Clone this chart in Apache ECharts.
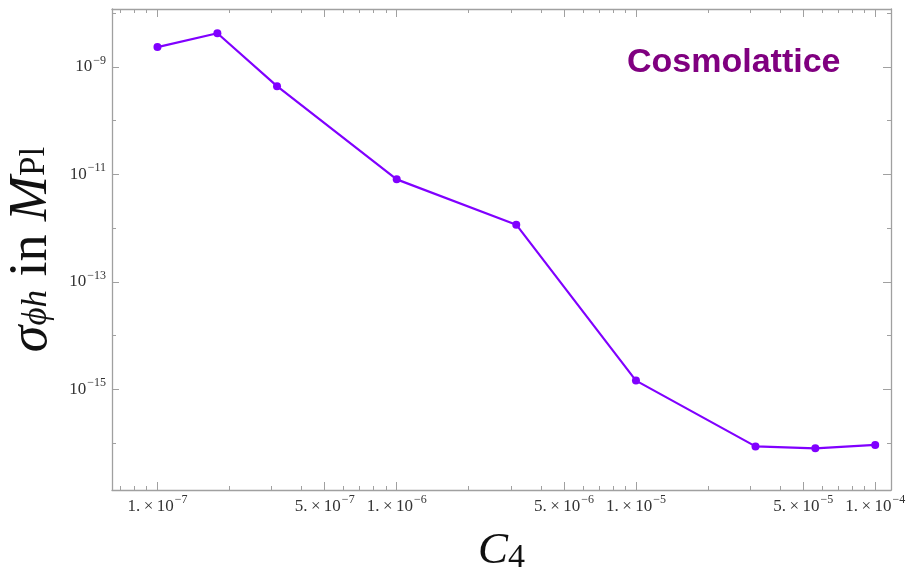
<!DOCTYPE html>
<html>
<head>
<meta charset="utf-8">
<script src="https://cdn.jsdelivr.net/npm/echarts@6/dist/echarts.min.js"></script>
<style>html,body{margin:0;padding:0;background:#fff}#c{width:907px;height:572px}</style>
</head>
<body>
<div id="c"></div>
<script>
// Data (raw values, log-log plot)
const xValues = [1e-7, 1.78e-7, 3.16e-7, 1e-6, 3.16e-6, 1e-5, 3.16e-5, 5.62e-5, 1e-4];
const yValues = [2.35e-9, 4.25e-9, 4.4e-10, 8.1e-12, 1.16e-12, 1.45e-15, 8.65e-17, 7.95e-17, 9.2e-17];
// Ticks
const xMajorTicks = [1e-7, 5e-7, 1e-6, 5e-6, 1e-5, 5e-5, 1e-4];
const xMinorTicks = [7e-8, 8e-8, 9e-8, 2e-7, 3e-7, 4e-7, 6e-7, 7e-7, 8e-7, 9e-7,
  2e-6, 3e-6, 4e-6, 6e-6, 7e-6, 8e-6, 9e-6, 2e-5, 3e-5, 4e-5, 6e-5, 7e-5, 8e-5, 9e-5];
const yMajorTicks = [1e-9, 1e-11, 1e-13, 1e-15];
const yMinorTicks = [1e-8, 1e-10, 1e-12, 1e-14, 1e-16];
const xRange = [-7.19, -3.934];   // log10 extent
const yRange = [-16.875, -7.92];  // log10 extent

const L = v => Math.log10(v);
const AX = '#a0a0a0';
const serif = 'Liberation Serif';

function xFmt(v) {
  const e = Math.floor(v + 1e-6);
  const m = Math.round(Math.pow(10, v - e));
  return '{b|' + m + '.\u2009×\u200910}{sup|−' + Math.abs(e) + '}';
}
function yFmt(v) {
  const e = Math.round(v);
  return '{b|10}{sup|−' + Math.abs(e) + '}';
}
const labelRich = {
  b: {fontFamily: serif, fontSize: 17, color: '#333'},
  sup: {fontFamily: serif, fontSize: 12, color: '#333', padding: [0, 0, 13, 1]}
};

function xAx(pos, vals, len, opts) {
  return Object.assign({
    type: 'value', position: pos, min: xRange[0], max: xRange[1],
    axisLine: {show: false}, splitLine: {show: false},
    axisTick: {show: true, inside: true, length: len, customValues: vals.map(L), lineStyle: {color: AX, width: 1}},
    axisLabel: {show: false}
  }, opts || {});
}
function yAx(pos, vals, len, opts) {
  return Object.assign({
    type: 'value', position: pos, min: yRange[0], max: yRange[1],
    axisLine: {show: false}, splitLine: {show: false},
    axisTick: {show: true, inside: true, length: len, customValues: vals.map(L), lineStyle: {color: AX, width: 1}},
    axisLabel: {show: false}
  }, opts || {});
}

const chart = echarts.init(document.getElementById('c'), null, {renderer: 'canvas'});
chart.setOption({
  animation: false,
  grid: {left: 112, right: 16, top: 9, bottom: 82, containLabel: false, outerBoundsMode: 'none'},
  xAxis: [
    xAx('bottom', xMajorTicks, 8, {
      axisLine: {show: true, lineStyle: {color: AX, width: 1.3}},
      axisLabel: {show: true, customValues: xMajorTicks.map(L), margin: 4, formatter: xFmt, rich: labelRich},
      name: '{c|C}{s|4}', nameLocation: 'middle', nameGap: 37,
      nameTextStyle: {rich: {
        c: {fontFamily: serif, fontStyle: 'italic', fontSize: 45, color: '#111'},
        s: {fontFamily: serif, fontSize: 34, color: '#111', padding: [14, 0, 0, 0]}
      }}
    }),
    xAx('bottom', xMinorTicks, 4),
    xAx('top', xMajorTicks, 8, {axisLine: {show: true, lineStyle: {color: AX, width: 1.3}}}),
    xAx('top', xMinorTicks, 4)
  ],
  yAxis: [
    yAx('left', yMajorTicks, 7, {
      axisLine: {show: true, lineStyle: {color: AX, width: 1.3}},
      axisLabel: {show: true, customValues: yMajorTicks.map(L), margin: 6, formatter: yFmt, rich: labelRich},
      name: '{it|σ}{sub|ϕh}{rm| in }{it|M}{subr|Pl}', nameLocation: 'middle', nameRotate: 90, nameGap: 48,
      nameTextStyle: {rich: {
        it: {fontFamily: serif, fontStyle: 'italic', fontSize: 54, color: '#111'},
        rm: {fontFamily: serif, fontSize: 54, color: '#111'},
        sub: {fontFamily: serif, fontStyle: 'italic', fontSize: 35, color: '#111', padding: [10, 0, 0, 0]},
        subr: {fontFamily: serif, fontSize: 35, color: '#111', padding: [6, 0, 0, 0]}
      }}
    }),
    yAx('left', yMinorTicks, 4),
    yAx('right', yMajorTicks, 8, {axisLine: {show: true, lineStyle: {color: AX, width: 1.3}}}),
    yAx('right', yMinorTicks, 4)
  ],
  graphic: [{
    type: 'text', x: 627, y: 63,
    style: {text: 'Cosmolattice', fill: '#800080', font: 'bold 34px "Liberation Sans"', textVerticalAlign: 'middle'}
  }],
  series: [{
    type: 'line', xAxisIndex: 0, yAxisIndex: 0,
    data: xValues.map((x, i) => [L(x), L(yValues[i])]),
    symbol: 'circle', symbolSize: 8,
    lineStyle: {color: '#8000ff', width: 2.2},
    itemStyle: {color: '#8000ff'}
  }]
});
</script>
</body>
</html>
